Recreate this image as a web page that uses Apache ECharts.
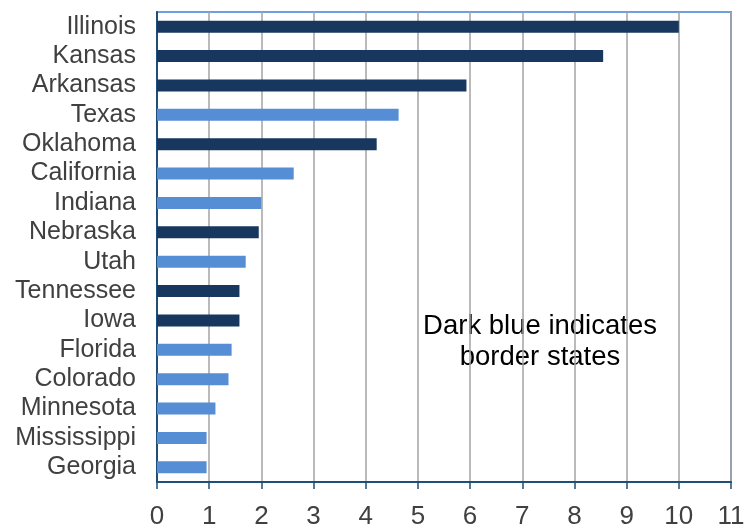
<!DOCTYPE html>
<html>
<head>
<meta charset="utf-8">
<script src="https://cdn.jsdelivr.net/npm/echarts@6/dist/echarts.min.js"></script>
<style>
  html, body { margin: 0; padding: 0; background: #fff; }
  #chart { width: 748px; height: 530px; }
</style>
</head>
<body>
<div id="chart"></div>
<script>
// States, ordered top to bottom
const states = ['Illinois', 'Kansas', 'Arkansas', 'Texas', 'Oklahoma', 'California', 'Indiana',
  'Nebraska', 'Utah', 'Tennessee', 'Iowa', 'Florida', 'Colorado', 'Minnesota', 'Mississippi', 'Georgia'];
// Value per state
const values = [10.0, 8.55, 5.93, 4.63, 4.21, 2.62, 2.0, 1.95, 1.70, 1.58, 1.58, 1.43, 1.37, 1.12, 0.95, 0.95];
// 1 = border state (dark blue), 0 = other
const borderState = [1, 1, 1, 0, 1, 0, 0, 1, 0, 1, 1, 0, 0, 0, 0, 0];
// X axis range and tick step
const xMin = 0, xMax = 11, xStep = 1;

const DARK = '#17375e';
const LIGHT = '#558ed5';
const FONT = '"Liberation Sans", Arial, sans-serif';

const chart = echarts.init(document.getElementById('chart'), null, { renderer: 'canvas' });

chart.setOption({
  animation: false,
  backgroundColor: '#ffffff',
  grid: {
    left: 157, right: 17, top: 12, bottom: 45,
    show: true, borderColor: '#6f9fdc', borderWidth: 2, backgroundColor: 'transparent'
  },
  xAxis: {
    type: 'value', min: xMin, max: xMax, interval: xStep,
    axisLine: { show: true, lineStyle: { color: '#1f4e79', width: 2 } },
    axisTick: { show: true, length: 7, lineStyle: { color: '#1f4e79', width: 1.5 } },
    axisLabel: { color: '#404040', fontFamily: FONT, fontSize: 26, margin: 22 },
    splitLine: { show: true, lineStyle: { color: '#a3a3a3', width: 1.5 } }
  },
  yAxis: {
    type: 'category', data: states, inverse: true,
    axisLine: { show: true, lineStyle: { color: '#1f4e79', width: 2 } },
    axisTick: { show: false },
    axisLabel: { color: '#404040', fontFamily: FONT, fontSize: 25, margin: 21, interval: 0, padding: [0, 0, 6, 0] },
    splitLine: { show: false }
  },
  series: [{
    type: 'bar',
    barWidth: 12,
    data: values.map((v, i) => ({
      value: v,
      itemStyle: { color: borderState[i] ? DARK : LIGHT }
    }))
  }],
  graphic: [{
    type: 'group',
    left: 402, top: 297,
    children: [
      { type: 'rect', shape: { x: 0, y: 0, width: 266, height: 89 }, style: { fill: '#ffffff' } },
      {
        type: 'text', x: 138, y: 45,
        style: {
          text: 'Dark blue indicates\nborder states',
          fill: '#000000', font: '27.5px ' + FONT,
          textAlign: 'center', textVerticalAlign: 'middle', lineHeight: 31
        }
      }
    ]
  }]
});
</script>
</body>
</html>
